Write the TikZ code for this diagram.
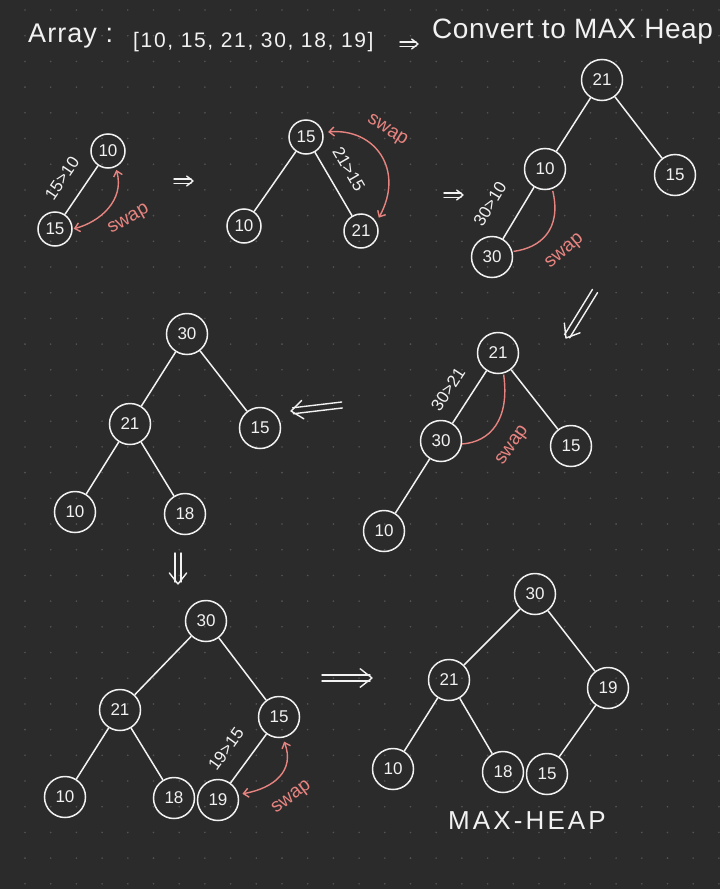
\documentclass[tikz,border=0pt]{standalone}
\usepackage{fontspec}
\setmainfont{Liberation Sans}
\usetikzlibrary{arrows.meta,calc}
\definecolor{bgc}{RGB}{43,43,43}
\definecolor{dotc}{RGB}{84,84,84}
\definecolor{ink}{RGB}{242,242,242}
\definecolor{redink}{RGB}{232,132,128}
% hand-drawn style double arrow: #1 start, #2 tip, #3 half gap, #4 chevron arm
\newcommand\hdarrowdraw[4]{%
  \coordinate (hdE) at ($(#2)!2pt!(#1)$);
  \draw[arrowline] ($(#1)!#3!90:(#2)$) -- ($(hdE)!#3!-90:(#1)$);
  \draw[arrowline] ($(#1)!#3!-90:(#2)$) -- ($(hdE)!#3!90:(#1)$);
  \draw[arrowline] ($(#2)!#4!38:(#1)$) -- (#2) -- ($(#2)!#4!-38:(#1)$);
}
\begin{document}
\begin{tikzpicture}[x=1pt,y=-1pt,
  hn/.style={circle, draw=ink, line width=1.5pt, text=ink, inner sep=0pt, font=\fontsize{17}{17}\selectfont},
  hs/.style={hn, minimum size=34pt},
  hb/.style={hn, minimum size=41pt},
  edge/.style={draw=ink, line width=1.5pt},
  cmp/.style={text=ink, font=\fontsize{17}{17}\selectfont, inner sep=0pt},
  swaplbl/.style={text=redink, font=\fontsize{19}{19}\selectfont, inner sep=0pt},
  swapcurve/.style={draw=redink, line width=1.4pt},
  swaparrow/.style={swapcurve, {Straight Barb[length=5pt,width=9pt]}-{Straight Barb[length=5pt,width=9pt]}},
  arrowline/.style={draw=ink, line width=1.4pt, line cap=round, line join=round},
  titletext/.style={text=ink, inner sep=0pt, anchor=base west}
]
% background and dot grid
\fill[bgc] (0,0) rectangle (720,889);
\useasboundingbox (0,0) rectangle (720,889);
\foreach \i in {0,...,27}{
  \foreach \j in {0,...,34}{
    \fill[dotc] ({25+25.7*\i},{10+25.7*\j}) circle (0.9pt);
  }
}
% title
\node[titletext, font=\fontsize{27}{27}\selectfont\addfontfeature{LetterSpace=4}] (t1) at (28,42) {Array :};
\node[titletext, font=\fontsize{21}{21}\selectfont\addfontfeature{LetterSpace=8}] (t2) at (133,47) {[10, 15, 21, 30, 18, 19]};
\coordinate (ta) at (400,44);
\coordinate (tb) at (418,44);
\hdarrowdraw{ta}{tb}{2.2pt}{8pt}
\node[titletext, font=\fontsize{28}{28}\selectfont\addfontfeature{LetterSpace=2}] (t3) at (432,38) {Convert to MAX Heap};

% tree 1
\node[hs] (a10) at (108,151) {10};
\node[hs] (a15) at (55,229) {15};
\draw[edge] (a15) -- (a10);
\node[cmp, rotate=56] (la) at (62,178) {15>10};
\draw[swaparrow, shorten <=1pt, shorten >=3pt] (a15.east) .. controls (100,222) and (125,200) .. (a10.-65);
\node[swaplbl, rotate=30] (sa) at (129,220) {swap};

\coordinate (ab1) at (174,181);
\coordinate (ab2) at (193,181);
\hdarrowdraw{ab1}{ab2}{2.2pt}{8pt}

% tree 2
\node[hs] (b15) at (306,137) {15};
\node[hs] (b10) at (244,226) {10};
\node[hs] (b21) at (361,231) {21};
\draw[edge] (b15) -- (b10);
\draw[edge] (b15) -- (b21);
\node[cmp, rotate=-60] (lb) at (349,169) {21>15};
\draw[swaparrow, shorten <=5pt, shorten >=5pt] (b15.15) .. controls (375,128) and (405,170) .. (b21.30);
\node[swaplbl, rotate=-32] (sb) at (387,131) {swap};

\coordinate (bc1) at (444,195);
\coordinate (bc2) at (463,195);
\hdarrowdraw{bc1}{bc2}{2.2pt}{8pt}

% tree 3
\node[hb] (c21) at (602,80) {21};
\node[hb] (c10) at (545,169) {10};
\node[hb] (c15) at (675,175) {15};
\node[hb] (c30) at (492,257) {30};
\draw[edge] (c21) -- (c10);
\draw[edge] (c21) -- (c15);
\draw[edge] (c10) -- (c30);
\node[cmp, rotate=59] (lc) at (490,204) {30>10};
\draw[swapcurve, shorten <=2pt, shorten >=1pt] (c10.-70) .. controls (562,230) and (540,248) .. (c30.15);
\node[swaplbl, rotate=40] (sc) at (565,252) {swap};

\coordinate (cd1) at (595,291);
\coordinate (cd2) at (566,338);
\hdarrowdraw{cd1}{cd2}{3pt}{15pt}

% tree 4
\node[hb] (d21) at (498,353) {21};
\node[hb] (d30) at (441,441) {30};
\node[hb] (d15) at (571,446) {15};
\node[hb] (d10) at (384,531) {10};
\draw[edge] (d21) -- (d30);
\draw[edge] (d21) -- (d15);
\draw[edge] (d30) -- (d10);
\node[cmp, rotate=57] (ld) at (448,389) {30>21};
\draw[swapcurve, shorten <=1pt] (d21.-75) .. controls (510,420) and (490,442) .. (d30.-8);
\node[swaplbl, rotate=55] (sd) at (513,446) {swap};

\coordinate (de1) at (342,405);
\coordinate (de2) at (291,411);
\hdarrowdraw{de1}{de2}{3pt}{15pt}

% tree 5
\node[hb] (e30) at (187,334) {30};
\node[hb] (e21) at (130,424) {21};
\node[hb] (e15) at (260,428) {15};
\node[hb] (e10) at (75,512) {10};
\node[hb] (e18) at (185,514) {18};
\draw[edge] (e30) -- (e21);
\draw[edge] (e30) -- (e15);
\draw[edge] (e21) -- (e10);
\draw[edge] (e21) -- (e18);

\coordinate (ef1) at (178,553);
\coordinate (ef2) at (178,584);
\hdarrowdraw{ef1}{ef2}{3pt}{14pt}

% tree 6
\node[hb] (f30) at (206,621) {30};
\node[hb] (f21) at (120,710) {21};
\node[hb] (f15) at (279,717) {15};
\node[hb] (f10) at (65,797) {10};
\node[hb] (f18) at (174,798) {18};
\node[hb] (f19) at (218,800) {19};
\draw[edge] (f30) -- (f21);
\draw[edge] (f30) -- (f15);
\draw[edge] (f21) -- (f10);
\draw[edge] (f21) -- (f18);
\draw[edge] (f15) -- (f19);
\node[cmp, rotate=54] (lf) at (226,749) {19>15};
\draw[swaparrow, shorten <=4pt, shorten >=4pt] (f19.15) .. controls (275,788) and (295,770) .. (f15.-80);
\node[swaplbl, rotate=37] (sf) at (292,798) {swap};

\coordinate (fg1) at (322,678);
\coordinate (fg2) at (372,678);
\hdarrowdraw{fg1}{fg2}{3pt}{15pt}

% tree 7 (max heap)
\node[hb] (g30) at (535,594) {30};
\node[hb] (g21) at (449,680) {21};
\node[hb] (g19) at (608,688) {19};
\node[hb] (g10) at (393,769) {10};
\node[hb] (g18) at (503,772) {18};
\node[hb] (g15) at (547,774) {15};
\draw[edge] (g30) -- (g21);
\draw[edge] (g30) -- (g19);
\draw[edge] (g21) -- (g10);
\draw[edge] (g21) -- (g18);
\draw[edge] (g19) -- (g15);
\node[text=ink, inner sep=0pt, font=\fontsize{26}{26}\selectfont\addfontfeature{LetterSpace=12}] (mh) at (527,821) {MAX-HEAP};
\end{tikzpicture}
\end{document}
